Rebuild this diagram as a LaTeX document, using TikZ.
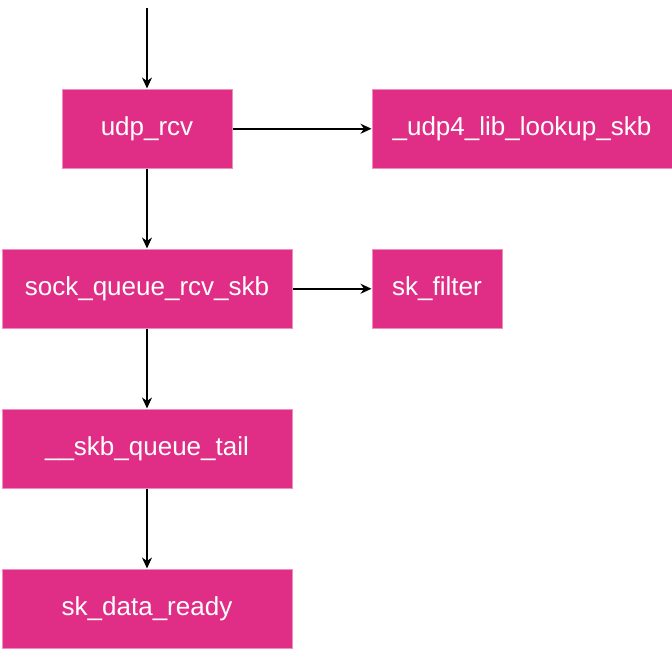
\documentclass[tikz,border=0pt]{standalone}
\usepackage{fontspec}
\setmainfont{Liberation Sans}
\usetikzlibrary{arrows.meta}
\definecolor{boxfill}{HTML}{E02E87}
\definecolor{boxline}{HTML}{F08CC0}
\begin{document}
\begin{tikzpicture}[x=1pt,y=-1pt,
  fn/.style={draw=boxline, line width=1pt, fill=boxfill, text=white, inner sep=0pt,
    font=\fontsize{26}{30}\selectfont, anchor=north west},
  conn/.style={draw=black, line width=1.5pt, -{Stealth[length=11pt,width=10pt,inset=3.5pt]}}]
\useasboundingbox (0,0) rectangle (672,649);
\node[fn, minimum width=170pt, minimum height=79.5pt] (udp) at (61.5,88.5) {udp\_rcv};
\node[fn, minimum width=300pt, minimum height=79.5pt] (lookup) at (371.5,88.5) {\_udp4\_lib\_lookup\_skb};
\node[fn, minimum width=290pt, minimum height=79.5pt] (sock) at (1.5,248.5) {sock\_queue\_rcv\_skb};
\node[fn, minimum width=130pt, minimum height=79.5pt] (filter) at (371.5,248.5) {sk\_filter};
\node[fn, minimum width=290pt, minimum height=79.5pt] (tail) at (1.5,408.5) {\_\_skb\_queue\_tail};
\node[fn, minimum width=290pt, minimum height=79.5pt] (ready) at (1.5,568.5) {sk\_data\_ready};
\coordinate (start) at (147,8);
\draw[conn] (start) -- (udp.north);
\draw[conn] (udp.east) -- (lookup.west);
\draw[conn] (udp.south) -- (udp.south |- sock.north);
\draw[conn] (sock.east) -- (filter.west);
\draw[conn] (sock.south) -- (tail.north);
\draw[conn] (tail.south) -- (ready.north);
\end{tikzpicture}
\end{document}
